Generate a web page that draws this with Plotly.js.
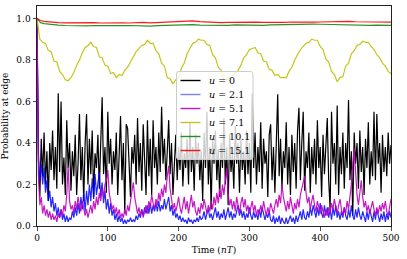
<!DOCTYPE html>
<html>
<head>
<meta charset="utf-8">
<script src="https://cdn.plot.ly/plotly-3.0.1.min.js"></script>
<style>html,body{margin:0;padding:0;background:#fff;}#chart{width:407px;height:259px;}</style>
</head>
<body>
<div id="chart"></div>
<script>
// Time grids (nT)
const STEP_FINE = 2;    // black, blue, magenta sampled every 2 nT
const STEP_MID = 4;     // yellow sampled every 4 nT
const tCoarse = [0,2,5,10,20,30,40,50,60,70,80,90,100,110,120,130,140,150,160,170,180,190,200,210,220,230,240,250,260,270,280,290,300,310,320,330,340,350,360,370,380,390,400,410,420,430,440,450,460,470,480,490,500];

const labels = ["<i>u</i> = 0", "<i>u</i> = 2.1", "<i>u</i> = 5.1", "<i>u</i> = 7.1", "<i>u</i> = 10.1", "<i>u</i> = 15.1"];
const colors = ["#000000", "#0000ff", "#bf00bf", "#bfbf00", "#008000", "#ff0000"];

// u = 0 (black), every 2 nT from 0 to 500
const pU0 = [1.0,0.32,0.14,0.42,0.24,0.45,0.20,0.36,0.12,0.40,0.27,0.46,0.22,0.38,0.18,0.64,0.26,0.60,0.20,0.33,
0.15,0.51,0.28,0.40,0.17,0.36,0.24,0.44,0.15,0.30,0.54,0.22,0.38,0.12,0.40,0.54,0.20,0.42,0.25,0.46,
0.14,0.35,0.28,0.44,0.18,0.40,0.62,0.25,0.38,0.16,0.55,0.30,0.42,0.20,0.36,0.27,0.45,0.15,0.33,0.53,
0.22,0.40,0.06,0.49,0.47,0.25,0.14,0.38,0.30,0.44,0.20,0.52,0.26,0.40,0.17,0.49,0.30,0.15,0.51,0.24,
0.42,0.15,0.51,0.28,0.38,0.20,0.45,0.26,0.575,0.30,0.42,0.22,0.36,0.51,0.25,0.40,0.15,0.33,0.44,0.22,
0.38,0.27,0.45,0.19,0.35,0.28,0.42,0.20,0.50,0.26,0.38,0.17,0.44,0.30,0.40,0.22,0.36,0.12,0.45,0.28,
0.55,0.20,0.38,0.08,0.42,0.30,0.46,0.22,0.37,0.14,0.40,0.28,0.52,0.20,0.38,0.10,0.44,0.26,0.35,0.18,
0.48,0.30,0.40,0.16,0.42,0.27,0.36,0.20,0.46,0.25,0.40,0.16,0.64,0.28,0.45,0.20,0.38,0.26,0.50,0.18,
0.42,0.30,0.36,0.14,0.44,0.49,0.22,0.38,0.16,0.40,0.635,0.24,0.42,0.18,0.36,0.28,0.50,0.20,0.38,0.15,
0.44,0.26,0.40,0.18,0.46,0.57,0.22,0.40,0.55,0.17,0.36,0.28,0.45,0.16,0.38,0.25,0.42,0.20,0.51,0.28,
0.38,0.14,0.44,0.25,0.40,0.52,0.22,0.08,0.55,0.30,0.40,0.20,0.58,0.15,0.38,0.25,0.45,0.18,0.40,0.28,
0.607,0.22,0.36,0.05,0.45,0.30,0.40,0.18,0.46,0.26,0.38,0.15,0.42,0.28,0.50,0.20,0.36,0.24,0.55,0.22,
0.54,0.30,0.40,0.16,0.44,0.26,0.38,0.24,0.45,0.30,0.39];

// u = 2.1 (blue), every 2 nT
const pU21 = [1.0,0.35,0.22,0.30,0.20,0.28,0.16,0.22,0.12,0.17,0.09,0.14,0.07,0.11,0.05,0.09,0.04,0.08,0.03,0.06,
0.02,0.05,0.02,0.04,0.03,0.07,0.04,0.09,0.05,0.11,0.06,0.14,0.08,0.16,0.07,0.17,0.10,0.20,0.12,0.23,
0.13,0.25,0.15,0.22,0.26,0.14,0.21,0.11,0.17,0.08,0.13,0.06,0.11,0.05,0.08,0.03,0.06,0.02,0.05,0.02,
0.04,0.01,0.03,0.01,0.03,0.02,0.04,0.02,0.03,0.02,0.05,0.03,0.06,0.04,0.08,0.05,0.09,0.06,0.10,0.06,
0.11,0.06,0.10,0.07,0.11,0.07,0.12,0.07,0.10,0.08,0.13,0.08,0.11,0.14,0.07,0.10,0.05,0.08,0.04,0.06,
0.03,0.05,0.02,0.04,0.02,0.03,0.01,0.04,0.02,0.03,0.01,0.03,0.02,0.04,0.02,0.05,0.03,0.04,0.07,0.03,
0.06,0.08,0.04,0.06,0.03,0.07,0.09,0.04,0.07,0.03,0.06,0.04,0.08,0.03,0.06,0.09,0.04,0.07,0.03,0.06,
0.04,0.08,0.10,0.05,0.08,0.04,0.07,0.03,0.06,0.04,0.09,0.05,0.03,0.07,0.04,0.06,0.03,0.08,0.04,0.09,
0.05,0.03,0.06,0.04,0.07,0.03,0.02,0.05,0.01,0.04,0.02,0.05,0.01,0.04,0.02,0.01,0.04,0.01,0.03,0.05,
0.02,0.04,0.01,0.05,0.02,0.04,0.07,0.03,0.08,0.04,0.03,0.07,0.04,0.09,0.05,0.10,0.06,0.04,0.09,0.05,
0.11,0.06,0.04,0.10,0.05,0.09,0.04,0.08,0.03,0.09,0.05,0.10,0.04,0.07,0.03,0.07,0.04,0.09,0.05,0.03,
0.08,0.04,0.10,0.05,0.03,0.08,0.04,0.09,0.05,0.03,0.07,0.04,0.02,0.07,0.03,0.08,0.04,0.02,0.07,0.03,
0.08,0.04,0.02,0.06,0.03,0.07,0.02,0.06,0.03,0.07,0.04];

// u = 5.1 (magenta), every 2 nT
const pU51 = [1.0,0.25,0.10,0.14,0.06,0.10,0.05,0.08,0.04,0.07,0.03,0.06,0.03,0.05,0.02,0.06,0.04,0.08,0.05,0.10,
0.07,0.15,0.29,0.12,0.08,0.10,0.06,0.12,0.08,0.14,0.10,0.07,0.12,0.09,0.05,0.08,0.04,0.07,0.10,0.06,
0.12,0.08,0.14,0.10,0.16,0.12,0.18,0.14,0.20,0.22,0.27,0.16,0.12,0.08,0.10,0.06,0.09,0.05,0.08,0.04,
0.06,0.04,0.08,0.05,0.10,0.07,0.12,0.16,0.21,0.14,0.10,0.06,0.09,0.05,0.08,0.04,0.07,0.10,0.06,0.12,
0.09,0.15,0.11,0.08,0.13,0.10,0.16,0.12,0.18,0.14,0.20,0.16,0.24,0.29,0.18,0.12,0.08,0.11,0.07,0.10,
0.14,0.09,0.06,0.10,0.14,0.08,0.12,0.06,0.10,0.15,0.09,0.12,0.07,0.05,0.09,0.06,0.11,0.08,0.13,0.09,
0.06,0.10,0.07,0.12,0.08,0.14,0.10,0.16,0.11,0.18,0.13,0.20,0.15,0.22,0.28,0.16,0.10,0.13,0.08,0.12,
0.07,0.14,0.10,0.06,0.11,0.14,0.09,0.13,0.07,0.10,0.06,0.09,0.12,0.07,0.10,0.05,0.08,0.06,0.10,0.07,
0.12,0.08,0.05,0.09,0.06,0.11,0.08,0.06,0.10,0.13,0.09,0.15,0.11,0.20,0.14,0.10,0.07,0.12,0.08,0.14,
0.10,0.06,0.11,0.08,0.13,0.09,0.15,0.18,0.22,0.24,0.16,0.11,0.14,0.08,0.12,0.15,0.10,0.07,0.12,0.09,
0.06,0.10,0.07,0.04,0.08,0.05,0.09,0.06,0.11,0.08,0.13,0.09,0.06,0.10,0.13,0.08,0.05,0.09,0.06,0.12,
0.08,0.14,0.20,0.30,0.375,0.26,0.15,0.10,0.16,0.22,0.14,0.09,0.12,0.07,0.10,0.06,0.09,0.12,0.08,0.05,
0.09,0.06,0.10,0.07,0.11,0.08,0.12,0.07,0.05,0.10,0.13];

// u = 7.1 (yellow), every 4 nT
const pU71 = [1.00,0.90,0.885,0.88,0.845,0.84,0.795,0.79,0.745,0.73,0.705,0.70,0.715,0.74,0.775,0.80,0.835,0.86,0.87,0.885,
0.865,0.86,0.815,0.81,0.775,0.77,0.735,0.74,0.715,0.73,0.725,0.75,0.765,0.79,0.815,0.84,0.855,0.87,0.875,0.895,
0.88,0.88,0.845,0.83,0.785,0.77,0.715,0.71,0.685,0.705,0.715,0.76,0.785,0.83,0.855,0.88,0.885,0.90,0.895,0.895,
0.875,0.87,0.825,0.81,0.765,0.75,0.705,0.705,0.70,0.725,0.735,0.75,0.775,0.81,0.825,0.85,0.855,0.86,0.835,0.83,
0.795,0.79,0.755,0.75,0.725,0.73,0.715,0.715,0.715,0.745,0.765,0.80,0.825,0.85,0.865,0.88,0.885,0.90,0.895,0.895,
0.865,0.85,0.805,0.79,0.745,0.73,0.695,0.715,0.72,0.77,0.785,0.83,0.845,0.87,0.875,0.89,0.885,0.885,0.865,0.85,
0.825,0.81,0.785,0.77,0.745,0.735,0.715,0.74,0.735,0.755];

// u = 10.1 (green) and u = 15.1 (red), on tCoarse
const pU101 = [1.0,0.99,0.98,0.975,0.97,0.968,0.966,0.965,0.966,0.964,0.966,0.965,0.967,0.964,0.965,0.966,0.964,0.965,0.963,0.965,
0.966,0.968,0.967,0.969,0.970,0.968,0.967,0.966,0.968,0.967,0.969,0.968,0.970,0.968,0.967,0.969,0.970,0.971,0.972,0.970,
0.971,0.973,0.972,0.971,0.970,0.968,0.967,0.968,0.966,0.967,0.968,0.966,0.967];
const pU151 = [1.0,0.995,0.99,0.986,0.982,0.980,0.979,0.980,0.978,0.979,0.980,0.978,0.979,0.980,0.979,0.978,0.980,0.981,0.979,0.980,
0.981,0.982,0.984,0.987,0.988,0.985,0.983,0.981,0.980,0.981,0.982,0.980,0.981,0.982,0.981,0.980,0.982,0.981,0.983,0.982,
0.981,0.982,0.983,0.984,0.986,0.988,0.986,0.984,0.983,0.982,0.983,0.982,0.982];

const tFine = pU0.map((_, i) => i * STEP_FINE);
const tMid = pU71.map((_, i) => i * STEP_MID);

const FONT = "DejaVu Serif, serif";
const opac = [1, 0.85, 0.9, 0.9, 0.85, 0.9];
const xs = [tFine, tFine, tFine, tMid, tCoarse, tCoarse];
const ys = [pU0, pU21, pU51, pU71, pU101, pU151];

const data = ys.map((y, i) => ({
  x: xs[i], y: y, name: labels[i], type: "scatter", mode: "lines",
  line: {color: colors[i], width: 1.2}, opacity: opac[i], showlegend: false
}));

// Custom legend (pixel geometry converted to paper coords)
const L = 37, T = 6, W = 354, H = 220;
const px = v => (v - L) / W;
const py = v => (T + H - v) / H;
const box = {x0: 176.5, x1: 253, y0: 71.5, y1: 159.5, r: 2.5};
const roundRect = (b) => {
  const x0 = px(b.x0), x1 = px(b.x1), y0 = py(b.y0), y1 = py(b.y1);
  const rx = b.r / W, ry = b.r / H;
  return `M ${x0+rx},${y0} L ${x1-rx},${y0} Q ${x1},${y0} ${x1},${y0-ry} L ${x1},${y1+ry} Q ${x1},${y1} ${x1-rx},${y1} L ${x0+rx},${y1} Q ${x0},${y1} ${x0},${y1+ry} L ${x0},${y0-ry} Q ${x0},${y0} ${x0+rx},${y0} Z`;
};
const rowY = [80.5, 94.5, 108.5, 122.5, 136.5, 150.5];
const shapes = [{
  type: "path", xref: "paper", yref: "paper", path: roundRect(box),
  fillcolor: "rgba(255,255,255,0.8)", line: {color: "#cccccc", width: 1}, layer: "above"
}];
const annotations = [];
rowY.forEach((yy, i) => {
  shapes.push({type: "line", xref: "paper", yref: "paper", x0: px(180.5), x1: px(200.5), y0: py(yy), y1: py(yy),
    line: {color: colors[i], width: 1.4}, opacity: i === 1 ? 0.5 : opac[i], layer: "above"});
  annotations.push({xref: "paper", yref: "paper", x: px(207), y: py(yy), xanchor: "left", yanchor: "middle",
    text: labels[i], showarrow: false, font: {family: FONT, size: 9.5, color: "#000"}});
});

const axisCommon = {
  showgrid: false, zeroline: false, showline: true, mirror: true,
  linecolor: "#222", linewidth: 1, ticks: "outside", ticklen: 3.5, tickwidth: 0.8,
  tickcolor: "#222", tickfont: {family: FONT, size: 9, color: "#000"}
};

const layout = {
  width: 407, height: 259,
  margin: {l: L, r: 16, t: T, b: 33, pad: 0},
  paper_bgcolor: "#fff", plot_bgcolor: "#fff",
  font: {family: FONT, size: 9, color: "#000"},
  xaxis: Object.assign({}, axisCommon, {
    range: [0, 500], tickvals: [0,100,200,300,400,500], ticktext: ["0","100","200","300","400","500"],
    title: {text: "Time (<i>nT</i>)", font: {family: FONT, size: 9}, standoff: 4}
  }),
  yaxis: Object.assign({}, axisCommon, {
    range: [0, 1.06], tickvals: [0,0.2,0.4,0.6,0.8,1.0], ticktext: ["0.0","0.2","0.4","0.6","0.8","1.0"],
    title: {text: "Probability at edge", font: {family: FONT, size: 9}, standoff: 6}
  }),
  showlegend: false,
  shapes: shapes,
  annotations: annotations
};

Plotly.newPlot("chart", data, layout, {displayModeBar: false, staticPlot: true});
</script>
</body>
</html>
